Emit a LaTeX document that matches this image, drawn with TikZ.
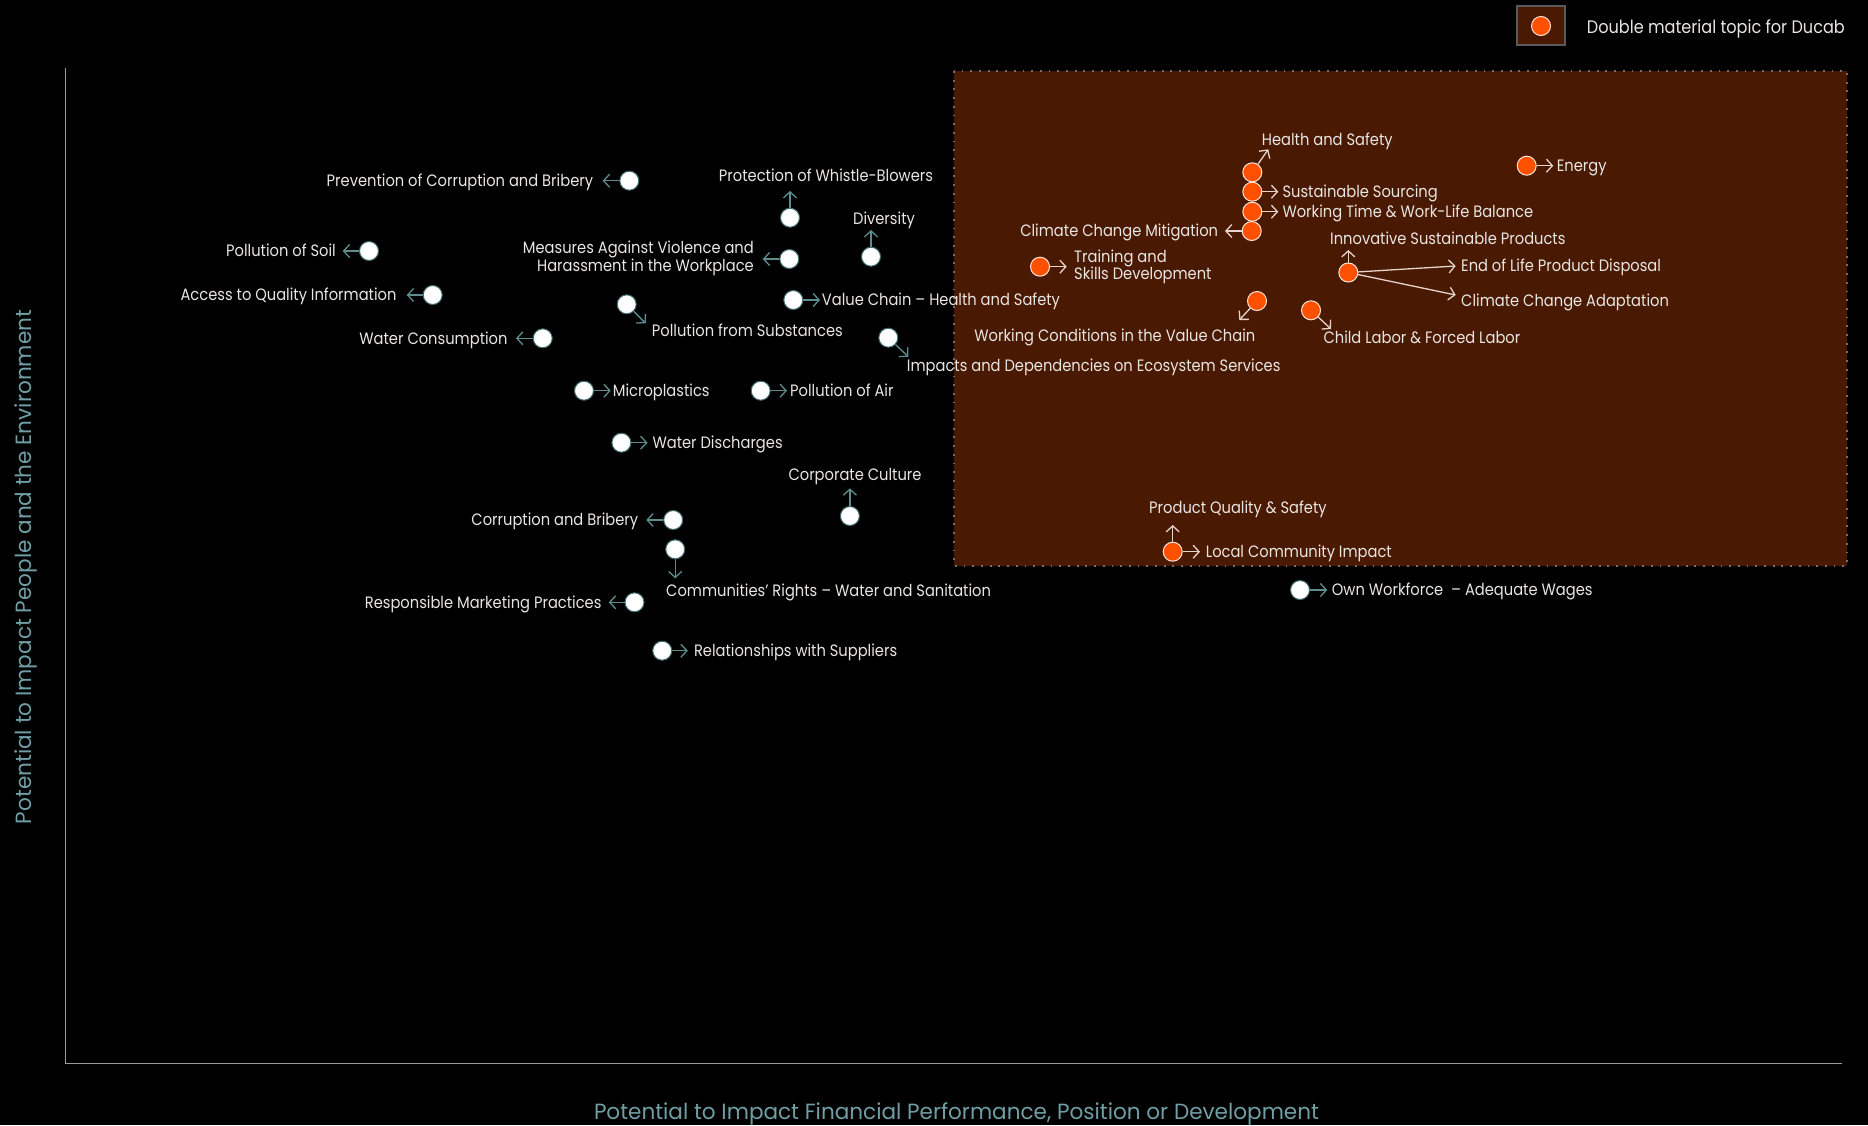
\documentclass[tikz,border=0pt]{standalone}
\usepackage{fontspec}
\setmainfont{Poppins}[FakeStretch=0.89]
\newfontfamily\axisfont{Poppins}[FakeStretch=0.98]
\usetikzlibrary{arrows.meta}
\definecolor{boxfill}{HTML}{4A1902}
\definecolor{dotc}{HTML}{707070}
\definecolor{orng}{HTML}{FF5000}
\definecolor{txtc}{HTML}{E8E6E3}
\definecolor{tealarr}{HTML}{5E8C8F}
\definecolor{pinkarr}{HTML}{E6D3CB}
\definecolor{axisc}{HTML}{9A9A9A}
\definecolor{axlab}{HTML}{6F9FA4}
\definecolor{wborder}{HTML}{3E6A6D}
\definecolor{legborder}{HTML}{5A5A5A}
\tikzset{
  wdot/.style={circle, fill=white, draw=wborder, line width=1pt, minimum size=19pt, inner sep=0pt},
  odot/.style={circle, fill=orng, draw=white!85!orng, line width=1pt, minimum size=19pt, inner sep=0pt},
  warr/.style={draw=tealarr, line width=1.3pt, -{Straight Barb[length=6pt,width=13pt]}},
  oarr/.style={draw=pinkarr, line width=1.3pt, -{Straight Barb[length=6pt,width=13pt]}},
  lbl/.style={text=txtc, inner sep=0pt, font=\fontsize{16.5}{19}\selectfont, text height=11.5pt, text depth=0pt},
  lbltwo/.style={text=txtc, inner sep=0pt, font=\fontsize{16.5}{17.7}\selectfont},
  axlabel/.style={text=axlab, inner sep=0pt, font=\axisfont\fontsize{22}{26}\selectfont},
}
\begin{document}
\begin{tikzpicture}[x=1pt,y=-1pt]
\useasboundingbox (0,0) rectangle (1868,1125);
\fill[black] (0,0) rectangle (1868,1125);
% material area
\fill[boxfill] (954,71) rectangle (1847,566);
\draw[dotc, line width=1.8pt, dash pattern=on 1.8pt off 6.9pt] (954,71) rectangle (1847,566);
% axes
\coordinate (ytop) at (65.5,68);
\coordinate (orig) at (65.5,1063.5);
\coordinate (xend) at (1842,1063.5);
\draw[axisc, line width=1.5pt] (ytop) -- (orig) -- (xend);
\node[axlabel, rotate=90] (ylab) at (26,567) {Potential to Impact People and the Environment};
\node[axlabel] (xlab) at (956.5,1114) {Potential to Impact Financial Performance, Position or Development};
% legend
\node[draw=legborder, fill=boxfill, line width=1.5pt, minimum width=48pt, minimum height=39pt, inner sep=0pt] (legbox) at (1541,25.5) {};
\node[odot] (legdot) at (1541,26) {};
\node[lbl, anchor=west, font=\fontsize{18.1}{20}\selectfont, text height=12.4pt] (legtxt) at (1586.7,27) {Double material topic for Ducab};

% ---------- non-material topics ----------
\node[wdot] (c1) at (629.3,180.7) {};
\coordinate (t1) at (602.7,180.7);
\draw[warr] (c1) -- (t1);
\node[lbl, anchor=east] (l1) at (593.3,180.5) {Prevention of Corruption and Bribery};

\node[wdot] (c2) at (369,251) {};
\coordinate (t2) at (342.7,251);
\draw[warr] (c2) -- (t2);
\node[lbl, anchor=east] (l2) at (336,251) {Pollution of Soil};

\node[wdot] (c3) at (432.7,295) {};
\coordinate (t3) at (406.7,295);
\draw[warr] (c3) -- (t3);
\node[lbl, anchor=east] (l3) at (396.7,295) {Access to Quality Information};

\node[wdot] (c4) at (542.7,338.3) {};
\coordinate (t4) at (516,338.3);
\draw[warr] (c4) -- (t4);
\node[lbl, anchor=east] (l4) at (507.7,338.3) {Water Consumption};

\node[wdot] (c5) at (584,390.7) {};
\coordinate (t5) at (610.7,390.7);
\draw[warr] (c5) -- (t5);
\node[lbl, anchor=west] (l5) at (612.7,390.7) {Microplastics};

\node[wdot] (c6) at (760.7,390.7) {};
\coordinate (t6) at (787,390.7);
\draw[warr] (c6) -- (t6);
\node[lbl, anchor=west] (l6) at (790,390.7) {Pollution of Air};

\node[wdot] (c7) at (621.4,442.7) {};
\coordinate (t7) at (647.5,442.7);
\draw[warr] (c7) -- (t7);
\node[lbl, anchor=west] (l7) at (652.3,442.7) {Water Discharges};

\node[wdot] (c8) at (673.2,520) {};
\coordinate (t8) at (646.3,520);
\draw[warr] (c8) -- (t8);
\node[lbl, anchor=east] (l8) at (638.4,520) {Corruption and Bribery};

\node[wdot] (c9) at (675.2,549.3) {};
\coordinate (t9) at (675.2,578.3);
\draw[warr] (c9) -- (t9);
\node[lbl, anchor=west] (l9) at (666,590.7) {Communities’ Rights – Water and Sanitation};

\node[wdot] (c10) at (634.5,602.3) {};
\coordinate (t10) at (608.8,602.3);
\draw[warr] (c10) -- (t10);
\node[lbl, anchor=east] (l10) at (601.7,602.3) {Responsible Marketing Practices};

\node[wdot] (c11) at (662.2,650.7) {};
\coordinate (t11) at (687.8,650.7);
\draw[warr] (c11) -- (t11);
\node[lbl, anchor=west] (l11) at (693.8,650.7) {Relationships with Suppliers};

\node[wdot] (c12) at (849.9,516) {};
\coordinate (t12) at (849.9,488.3);
\draw[warr] (c12) -- (t12);
\node[lbl] (l12) at (855,475) {Corporate Culture};

\node[wdot] (c13) at (790,217.7) {};
\coordinate (t13) at (790,191);
\draw[warr] (c13) -- (t13);
\node[lbl] (l13) at (826,176) {Protection of Whistle-Blowers};

\node[wdot] (c14) at (871,256.7) {};
\coordinate (t14) at (871,230);
\draw[warr] (c14) -- (t14);
\node[lbl] (l14) at (884,218.3) {Diversity};

\node[wdot] (c15) at (789.3,259) {};
\coordinate (t15) at (762.7,259);
\draw[warr] (c15) -- (t15);
\node[lbltwo, anchor=east, align=right] (l15) at (754,258.5) {Measures Against Violence and\\Harassment in the Workplace};

\node[wdot] (c16) at (793.3,300) {};
\coordinate (t16) at (820,300);
\draw[warr] (c16) -- (t16);
\node[lbl, anchor=west] (l16) at (821.7,300) {Value Chain – Health and Safety};

\node[wdot] (c17) at (626.7,304.3) {};
\coordinate (t17) at (645.7,323.3);
\draw[warr] (c17) -- (t17);
\node[lbl, anchor=west] (l17) at (651.7,330.7) {Pollution from Substances};

\node[wdot] (c18) at (888.3,337.7) {};
\coordinate (t18) at (908.3,356.7);
\draw[warr] (c18) -- (t18);
\node[lbl, anchor=west] (l18) at (906.7,366) {Impacts and Dependencies on Ecosystem Services};

\node[wdot] (c19) at (1300,590) {};
\coordinate (t19) at (1327.3,590);
\draw[warr] (c19) -- (t19);
\node[lbl, anchor=west] (l19) at (1331.7,590) {Own Workforce\ \ – Adequate Wages};

% ---------- double material topics ----------
\coordinate (t20) at (1268.3,149.3);
\coordinate (t21) at (1278.3,191.7);
\coordinate (t22) at (1278.3,211.7);
\coordinate (t23) at (1225,231);
\node[odot] (c20) at (1252.3,172.3) {};
\draw[oarr] (c20) -- (t20);
\node[odot] (c21) at (1252.3,191.7) {};
\draw[oarr] (c21) -- (t21);
\node[odot] (c22) at (1252.3,211.7) {};
\draw[oarr] (c22) -- (t22);
\node[odot] (c23) at (1251.7,231) {};
\draw[oarr] (c23) -- (t23);
\node[lbl, anchor=west] (l20) at (1261.7,140) {Health and Safety};
\node[lbl, anchor=west] (l21) at (1282.3,191.7) {Sustainable Sourcing};
\node[lbl, anchor=west] (l22) at (1282.3,211.7) {Working Time \& Work-Life Balance};
\node[lbl, anchor=east] (l23) at (1218.3,231) {Climate Change Mitigation};

\node[odot] (c24) at (1040,266.7) {};
\coordinate (t24) at (1066.7,266.7);
\draw[oarr] (c24) -- (t24);
\node[lbltwo, anchor=west, align=left] (l24) at (1074,267) {Training and\\Skills Development};

\node[odot] (c25) at (1526.7,165.7) {};
\coordinate (t25) at (1553.3,165.7);
\draw[oarr] (c25) -- (t25);
\node[lbl, anchor=west] (l25) at (1556.7,165.7) {Energy};

\node[odot] (c26) at (1348.3,272.5) {};
\coordinate (t26a) at (1348.3,250);
\coordinate (t26b) at (1455.7,266);
\coordinate (t26c) at (1455.7,295);
\draw[oarr] (c26) -- (t26a);
\draw[oarr] (c26) -- (t26b);
\draw[oarr] (c26) -- (t26c);
\node[lbl, anchor=west] (l26a) at (1330,238.7) {Innovative Sustainable Products};
\node[lbl, anchor=west] (l26b) at (1461,265.5) {End of Life Product Disposal};
\node[lbl, anchor=west] (l26c) at (1461,300.7) {Climate Change Adaptation};

\node[odot] (c27) at (1311,310.3) {};
\coordinate (t27) at (1331,329);
\draw[oarr] (c27) -- (t27);
\node[lbl, anchor=west] (l27) at (1323.3,337.7) {Child Labor \& Forced Labor};

\node[odot] (c28) at (1257,301) {};
\coordinate (t28) at (1239.3,320);
\draw[oarr] (c28) -- (t28);
\node[lbl, anchor=east] (l28) at (1255.5,336) {Working Conditions in the Value Chain};

\node[odot] (c29) at (1172.7,551.7) {};
\coordinate (t29a) at (1172.7,525);
\coordinate (t29b) at (1200,551.7);
\draw[oarr] (c29) -- (t29a);
\draw[oarr] (c29) -- (t29b);
\node[lbl, anchor=west] (l29a) at (1149,507.7) {Product Quality \& Safety};
\node[lbl, anchor=west] (l29b) at (1205.7,551.7) {Local Community Impact};
\end{tikzpicture}
\end{document}
